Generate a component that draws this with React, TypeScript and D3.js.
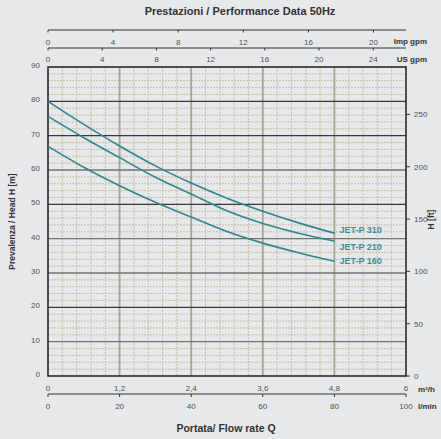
import * as d3 from "d3";

// flow in m3/h, head in m
const flowQ = [0, 0.6, 1.2, 1.8, 2.4, 3.0, 3.6, 4.2, 4.8];
const headP310 = [80, 73.3, 67.0, 61.2, 56.2, 51.8, 48.0, 44.6, 41.6];
const headP210 = [75.6, 69.4, 63.6, 57.9, 53.0, 48.1, 44.4, 41.6, 39.3];
const headP160 = [66.9, 60.8, 55.4, 50.6, 46.3, 42.1, 38.7, 35.9, 33.4];
const seriesNames = ["JET-P 310", "JET-P 210", "JET-P 160"];

const m3hTicks = [0, 1.2, 2.4, 3.6, 4.8, 6];
const lminTicks = [0, 20, 40, 60, 80, 100];
const impTicks = [0, 4, 8, 12, 16, 20];
const usTicks = [0, 4, 8, 12, 16, 20, 24];
const headTicks = [0, 10, 20, 30, 40, 50, 60, 70, 80, 90];
const ftTicks = [0, 50, 100, 150, 200, 250];
const darkHeads = [80, 70, 50, 20];

const W = 441;
const H = 439;
const L = 48;
const R = 406;
const T = 67;
const B = 376;
const FONT = "'Liberation Sans Narrow', 'Liberation Sans', Arial, sans-serif";
const TEAL = "#2a8790";
const TXT = "#505050";

export default function App() {
  const x = d3.scaleLinear().domain([0, 6]).range([L, R]);
  const y = d3.scaleLinear().domain([0, 90]).range([B, T]);
  const xl = d3.scaleLinear().domain([0, 100]).range([L, R]); // l/min
  const xImp = d3.scaleLinear().domain([0, 6 * 3.6662]).range([L, R]);
  const xUs = d3.scaleLinear().domain([0, 6 * 4.4029]).range([L, R]);
  const yFt = d3.scaleLinear().domain([0, 90 * 3.28084]).range([B, T]);

  const line = d3
    .line<number>()
    .x((_, i) => x(flowQ[i]))
    .y((d) => y(d))
    .curve(d3.curveMonotoneX);

  const series = [headP310, headP210, headP160];
  const minorX = d3.range(0, 6.001, 0.24).filter((v) => Math.abs(v / 1.2 - Math.round(v / 1.2)) > 0.01);
  const minorY = d3.range(0, 90.001, 2).filter((v) => v % 10 !== 0);
  const labelY = [233, 250, 264];

  return (
    <svg
      width={W}
      height={H}
      viewBox={`0 0 ${W} ${H}`}
      style={{ position: "absolute", left: 0, top: 0, background: "#e7e8ea" }}
      fontFamily={FONT}
    >
      <text x={240} y={15} textAnchor="middle" fontSize={11} fontWeight="bold" fill="#333">
        Prestazioni / Performance Data 50Hz
      </text>

      {/* minor grid */}
      {minorY.map((v) => (
        <line key={"my" + v} x1={L} x2={R} y1={y(v)} y2={y(v)} stroke="#c6bea9" strokeWidth={1} strokeDasharray="2,1" />
      ))}
      {minorX.map((v) => (
        <line key={"mx" + v} x1={x(v)} x2={x(v)} y1={T} y2={B} stroke="#c6bea9" strokeWidth={1} strokeDasharray="2,1" />
      ))}
      {/* major grid */}
      {m3hTicks.slice(1, -1).map((v) => (
        <line key={"vx" + v} x1={x(v)} x2={x(v)} y1={T} y2={B} stroke="#aaa493" strokeWidth={1.8} />
      ))}
      {headTicks.slice(1, -1).map((v) => (
        <line
          key={"hy" + v}
          x1={L}
          x2={R}
          y1={y(v)}
          y2={y(v)}
          stroke={darkHeads.includes(v) ? "#383838" : "#737373"}
          strokeWidth={1.4}
        />
      ))}
      <rect x={L} y={T} width={R - L} height={B - T} fill="none" stroke="#2a2a2a" strokeWidth={1.6} />

      {/* curves */}
      {series.map((s, i) => (
        <path key={i} d={line(s) ?? ""} fill="none" stroke={TEAL} strokeWidth={1.6} />
      ))}
      {seriesNames.map((n, i) => (
        <text key={n} x={x(4.8) + 5} y={labelY[i]} fontSize={9} fontWeight="bold" fill="#3d8f97">
          {n}
        </text>
      ))}

      {/* left axis */}
      {headTicks.map((v) => (
        <text key={"l" + v} x={L - 8} y={y(v) + 1} textAnchor="end" fontSize={8} fill={TXT}>
          {v}
        </text>
      ))}
      <text
        transform={`translate(15,${(T + B) / 2}) rotate(-90)`}
        textAnchor="middle"
        fontSize={8.5}
        fontWeight="bold"
        fill="#333"
      >
        Prevalenza / Head H [m]
      </text>

      {/* right axis, feet */}
      {ftTicks.map((v) => (
        <g key={"r" + v}>
          <line x1={R} x2={R + 4} y1={yFt(v)} y2={yFt(v)} stroke="#333" strokeWidth={1} />
          <text x={R + 8} y={yFt(v) + 3} fontSize={8} fill={TXT}>
            {v}
          </text>
        </g>
      ))}
      <text
        transform={`translate(434,${(T + B) / 2 - 2}) rotate(-90)`}
        textAnchor="middle"
        fontSize={8.5}
        fontWeight="bold"
        fill="#333"
      >
        H [ft]
      </text>

      {/* top axes */}
      <line x1={L} x2={R} y1={30} y2={30} stroke="#333" strokeWidth={1.2} />
      {impTicks.map((v) => (
        <g key={"i" + v}>
          <line x1={xImp(v)} x2={xImp(v)} y1={30} y2={32.5} stroke="#333" strokeWidth={1} />
          <text x={xImp(v)} y={45} textAnchor="middle" fontSize={8} fill={TXT}>
            {v}
          </text>
        </g>
      ))}
      <text x={427} y={44} textAnchor="end" fontSize={8} fontWeight="bold" fill="#333">
        Imp gpm
      </text>
      <line x1={L} x2={R} y1={48} y2={48} stroke="#333" strokeWidth={1.2} />
      {usTicks.map((v) => (
        <g key={"u" + v}>
          <line x1={xUs(v)} x2={xUs(v)} y1={48} y2={50.5} stroke="#333" strokeWidth={1} />
          <text x={xUs(v)} y={62} textAnchor="middle" fontSize={8} fill={TXT}>
            {v}
          </text>
        </g>
      ))}
      <text x={427} y={62} textAnchor="end" fontSize={8} fontWeight="bold" fill="#333">
        US gpm
      </text>

      {/* bottom axes */}
      {m3hTicks.map((v) => (
        <text key={"b" + v} x={x(v)} y={391} textAnchor="middle" fontSize={8} fill={TXT}>
          {String(v).replace(".", ",")}
        </text>
      ))}
      <text x={418} y={392} fontSize={8} fontWeight="bold" fill="#333">
        m³/h
      </text>
      <line x1={L} x2={R} y1={394} y2={394} stroke="#333" strokeWidth={1.2} />
      {lminTicks.map((v) => (
        <g key={"lm" + v}>
          <line x1={xl(v)} x2={xl(v)} y1={394} y2={397} stroke="#333" strokeWidth={1} />
          <text x={xl(v)} y={409} textAnchor="middle" fontSize={8} fill={TXT}>
            {v}
          </text>
        </g>
      ))}
      <text x={418} y={409} fontSize={8} fontWeight="bold" fill="#333">
        l/min
      </text>
      <text x={226} y={432} textAnchor="middle" fontSize={10.5} fontWeight="bold" fill="#333">
        Portata/ Flow rate Q
      </text>
    </svg>
  );
}
